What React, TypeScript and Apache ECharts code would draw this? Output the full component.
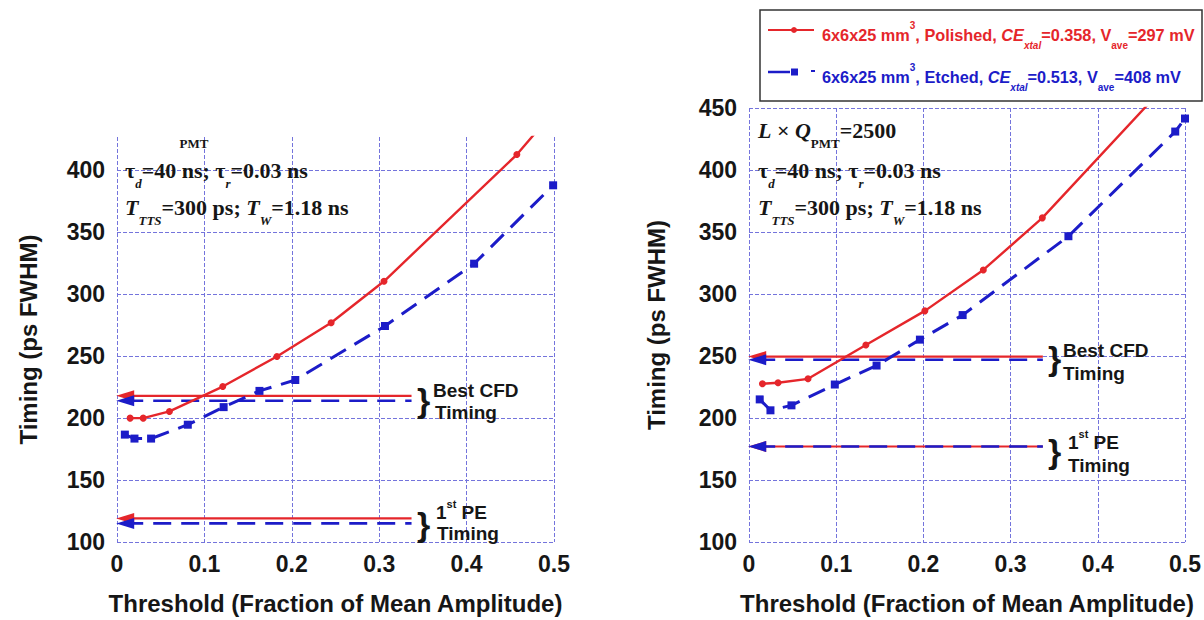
import React, { useEffect, useRef } from "react";
import * as echarts from "echarts";

// ---- data ----
const xPolishedL = [0.015, 0.03, 0.06, 0.121, 0.183, 0.245, 0.3055, 0.4575, 0.5];
const yPolishedL = [200, 200, 205.4, 225.5, 249.8, 277, 310.5, 412.8, 448];
const xEtchedL = [0.009, 0.02, 0.039, 0.081, 0.122, 0.163, 0.204, 0.3066, 0.4086, 0.499];
const yEtchedL = [186.7, 183.5, 183.5, 194.7, 208.9, 222, 230.8, 274.4, 324.7, 388];

const xPolishedR = [0.0154, 0.0333, 0.0677, 0.134, 0.2017, 0.2687, 0.3364, 0.5];
const yPolishedR = [227.6, 228.4, 231.6, 258.9, 286.4, 319.4, 361.4, 485];
const xEtchedR = [0.0123, 0.0246, 0.0487, 0.0984, 0.1463, 0.196, 0.245, 0.3663, 0.4888, 0.5];
const yEtchedR = [215, 206.2, 210.2, 227, 242.3, 263.2, 283, 346.6, 431, 441.5];

// reference levels [polished, etched]
const bestCfdL = [218, 214];
const firstPeL = [119, 115];
const bestCfdR = [249.5, 247];
const firstPeR = [177, 177];
const arrowSpan = [0.0094, 0.337];

const xRange = [0, 0.5];
const xStep = 0.1;
const yRangeL = [100, 427];
const yRangeR = [100, 450];
const yStep = 50;

const RED = "#e5262b";
const BLUE = "#1c1cc8";
const GRID = "#7474dc";
const INK = "#161616";
const SANS = "Liberation Sans, Arial, sans-serif";
const SERIF = "Liberation Serif, Times New Roman, serif";

const curve = (xs: number[], ys: number[], idx: number, polished: boolean) => ({
  type: "line",
  xAxisIndex: idx,
  yAxisIndex: idx,
  data: xs.map((x, i) => [x, ys[i]]),
  symbol: polished ? "circle" : "rect",
  symbolSize: polished ? 7 : 8,
  showAllSymbol: true,
  clip: true,
  z: 4,
  itemStyle: { color: polished ? RED : BLUE },
  lineStyle: polished
    ? { color: RED, width: 2.4 }
    : { color: BLUE, width: 3, type: [18, 10] },
});

const arrow = (y: number, idx: number, polished: boolean) => ({
  type: "line",
  xAxisIndex: idx,
  yAxisIndex: idx,
  symbol: "triangle",
  showAllSymbol: true,
  z: polished ? 2 : 3,
  itemStyle: { color: polished ? RED : BLUE },
  lineStyle: polished
    ? { color: RED, width: 2.2 }
    : { color: BLUE, width: 2.6, type: [18, 10] },
  data: [
    { value: [arrowSpan[0], y], symbol: "triangle", symbolSize: [11, 18], symbolRotate: 90 },
    { value: [arrowSpan[1], y], symbol: "none" },
  ],
});

const tickText = { fontFamily: SANS, fontWeight: "bold", fontSize: 23, color: INK };
const nameText = { fontFamily: SANS, fontWeight: "bold", fontSize: 24, color: INK };
const splitStyle = { show: true, lineStyle: { color: GRID, width: 1, type: [4, 2] } };

const xAxis = (gridIndex: number) => ({
  type: "value",
  gridIndex,
  min: xRange[0],
  max: xRange[1],
  interval: xStep,
  name: "Threshold (Fraction of Mean Amplitude)",
  nameLocation: "middle",
  nameGap: 49,
  nameTextStyle: nameText,
  axisLine: { show: false },
  axisTick: { show: false },
  axisLabel: { ...tickText, margin: 10 },
  splitLine: splitStyle,
});

const yAxis = (gridIndex: number, range: number[], gap: number, top: boolean) => ({
  type: "value",
  gridIndex,
  min: range[0],
  max: range[1],
  interval: yStep,
  name: "Timing (ps FWHM)",
  nameLocation: "middle",
  nameGap: gap,
  nameTextStyle: nameText,
  axisLine: { show: false },
  axisTick: { show: false },
  axisLabel: { ...tickText, margin: 12, showMaxLabel: top },
  splitLine: { ...splitStyle, showMaxLine: top },
});

const annRich = {
  m: { fontFamily: SERIF, fontWeight: "bold", fontSize: 22, fill: INK, verticalAlign: "top" },
  i: { fontFamily: SERIF, fontWeight: "bold", fontStyle: "italic", fontSize: 22, fill: INK, verticalAlign: "top" },
  s: { fontFamily: SERIF, fontWeight: "bold", fontStyle: "italic", fontSize: 13, fill: INK, verticalAlign: "top", padding: [18, 0, 0, 0] },
  u: { fontFamily: SERIF, fontWeight: "bold", fontSize: 13, fill: INK, verticalAlign: "top", padding: [18, 0, 0, 0] },
};

const ann = (x: number, y: number, text: string) => ({
  type: "text",
  x,
  y,
  z: 10,
  style: { text, rich: annRich, verticalAlign: "top", align: "left" },
});

const sans = (x: number, y: number, text: string, size = 19) => ({
  type: "text",
  x,
  y,
  z: 10,
  style: { text, fontFamily: SANS, fontWeight: "bold", fontSize: size, fill: INK, verticalAlign: "middle", align: "left" },
});

const peRich = {
  n: { fontFamily: SANS, fontWeight: "bold", fontSize: 19, fill: INK, verticalAlign: "top", padding: [5, 0, 0, 0] },
  p: { fontFamily: SANS, fontWeight: "bold", fontSize: 11, fill: INK, verticalAlign: "top" },
};
const pe = (x: number, top: number) => ({
  type: "text",
  x,
  y: top,
  z: 10,
  style: { text: "{n|1}{p|st}{n| PE}", rich: peRich, verticalAlign: "top", align: "left" },
});

const legRich = (c: string) => ({
  m: { fontFamily: SANS, fontWeight: "bold", fontSize: 16.3, fill: c, verticalAlign: "top", padding: [7, 0, 0, 0] },
  i: { fontFamily: SANS, fontWeight: "bold", fontStyle: "italic", fontSize: 16.3, fill: c, verticalAlign: "top", padding: [7, 0, 0, 0] },
  sup: { fontFamily: SANS, fontWeight: "bold", fontSize: 10, fill: c, verticalAlign: "top" },
  sub: { fontFamily: SANS, fontWeight: "bold", fontStyle: "italic", fontSize: 10, fill: c, verticalAlign: "top", padding: [20, 0, 0, 0] },
  subn: { fontFamily: SANS, fontWeight: "bold", fontSize: 10, fill: c, verticalAlign: "top", padding: [20, 0, 0, 0] },
});

const option = {
  animation: false,
  backgroundColor: "#ffffff",
  grid: [
    { left: 117, top: 137, width: 437, height: 407 },
    { left: 749, top: 108, width: 436, height: 436 },
  ],
  xAxis: [xAxis(0), xAxis(1)],
  yAxis: [yAxis(0, yRangeL, 77, false), yAxis(1, yRangeR, 81, true)],
  series: [
    arrow(bestCfdL[0], 0, true),
    arrow(bestCfdL[1], 0, false),
    arrow(firstPeL[0], 0, true),
    arrow(firstPeL[1], 0, false),
    curve(xPolishedL, yPolishedL, 0, true),
    curve(xEtchedL, yEtchedL, 0, false),
    arrow(bestCfdR[0], 1, true),
    arrow(bestCfdR[1], 1, false),
    arrow(firstPeR[0], 1, true),
    arrow(firstPeR[1], 1, false),
    curve(xPolishedR, yPolishedR, 1, true),
    curve(xEtchedR, yEtchedR, 1, false),
  ],
  graphic: [
    // in-plot annotations, left (top line cropped: only subscript left)
    ann(179.5, 119, "{u|PMT}"),
    ann(125, 159, "{m|τ}{s|d}{m|=40 ns; τ}{s|r}{m|=0.03 ns}"),
    ann(125, 196, "{i|T}{s|TTS}{m|=300 ps; }{i|T}{s|W}{m|=1.18 ns}"),
    // right
    ann(758, 119, "{i|L}{m| × }{i|Q}{u|PMT}{m|=2500}"),
    ann(758, 159, "{m|τ}{s|d}{m|=40 ns; τ}{s|r}{m|=0.03 ns}"),
    ann(758, 196, "{i|T}{s|TTS}{m|=300 ps; }{i|T}{s|W}{m|=1.18 ns}"),
    // braces and labels, left
    sans(417, 400, "}", 34),
    sans(433, 390, "Best CFD"),
    sans(435, 412, "Timing"),
    sans(417, 524, "}", 34),
    pe(436, 498),
    sans(437, 533, "Timing"),
    // right
    sans(1048, 358, "}", 34),
    sans(1063, 350, "Best CFD"),
    sans(1063, 373, "Timing"),
    sans(1048, 451, "}", 34),
    pe(1068, 428),
    sans(1068, 465, "Timing"),
    // legend box
    {
      type: "rect",
      z: 10,
      shape: { x: 760, y: 10, width: 442, height: 91 },
      style: { fill: "#ffffff", stroke: "#333333", lineWidth: 1.5 },
    },
    { type: "line", z: 11, shape: { x1: 768, y1: 30, x2: 814, y2: 30 }, style: { stroke: RED, lineWidth: 2 } },
    { type: "circle", z: 11, shape: { cx: 794, cy: 30, r: 3 }, style: { fill: RED } },
    {
      type: "text",
      z: 11,
      x: 822,
      y: 20,
      style: {
        text: "{m|6x6x25 mm}{sup|3}{m|, Polished, }{i|CE}{sub|xtal}{m|=0.358, V}{subn|ave}{m|=297 mV}",
        rich: legRich(RED),
        verticalAlign: "top",
        align: "left",
      },
    },
    { type: "line", z: 11, shape: { x1: 768, y1: 72, x2: 790, y2: 72 }, style: { stroke: BLUE, lineWidth: 2.5 } },
    { type: "rect", z: 11, shape: { x: 791, y: 68.5, width: 7, height: 7 }, style: { fill: BLUE } },
    { type: "line", z: 11, shape: { x1: 811, y1: 71, x2: 815, y2: 71 }, style: { stroke: BLUE, lineWidth: 2 } },
    {
      type: "text",
      z: 11,
      x: 822,
      y: 62,
      style: {
        text: "{m|6x6x25 mm}{sup|3}{m|, Etched, }{i|CE}{sub|xtal}{m|=0.513, V}{subn|ave}{m|=408 mV}",
        rich: legRich(BLUE),
        verticalAlign: "top",
        align: "left",
      },
    },
  ],
};

export default function App() {
  const ref = useRef<HTMLDivElement>(null);
  useEffect(() => {
    document.body.style.margin = "0";
    const chart = echarts.init(ref.current as HTMLDivElement, null, { renderer: "svg" });
    chart.setOption(option as any);
    return () => chart.dispose();
  }, []);
  return <div ref={ref} style={{ width: 1204, height: 620 }} />;
}
